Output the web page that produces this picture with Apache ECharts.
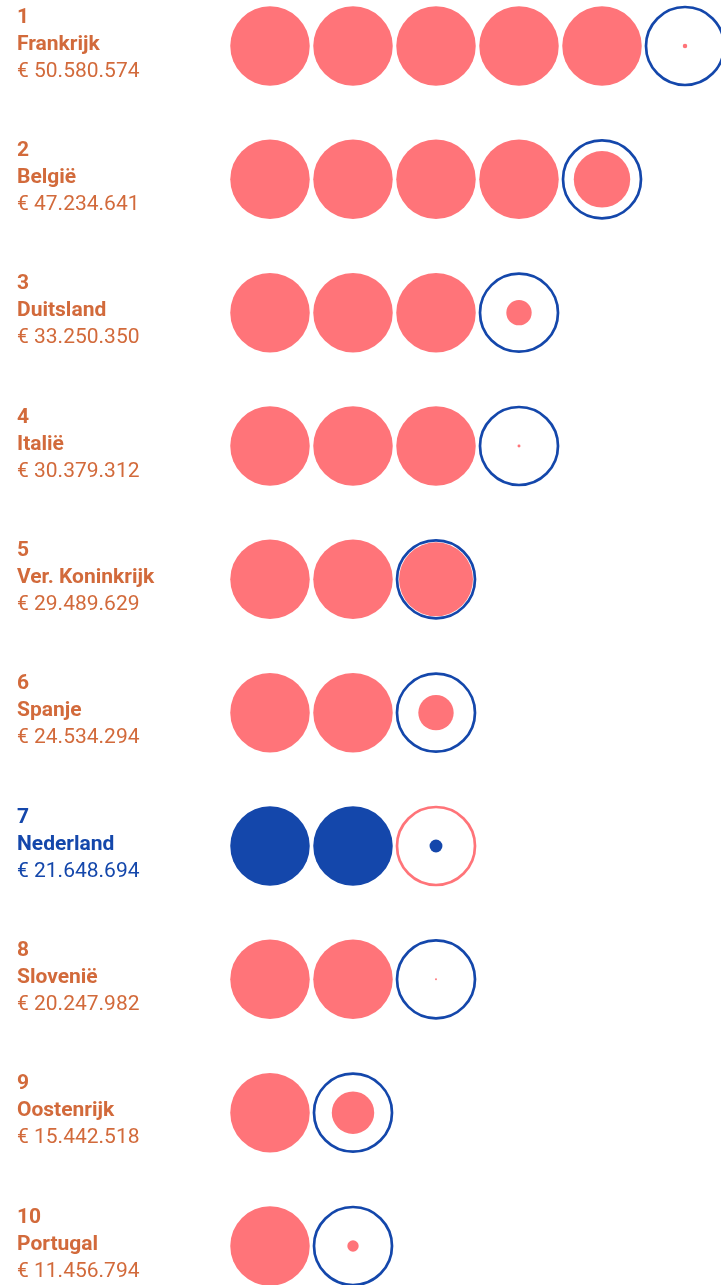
<!DOCTYPE html>
<html>
<head>
<meta charset="utf-8">
<script src="https://cdn.jsdelivr.net/npm/echarts@6/dist/echarts.min.js"></script>
<style>
  html, body { margin: 0; padding: 0; background: #ffffff; }
  #chart { width: 721px; height: 1285px; }
</style>
</head>
<body>
<div id="chart"></div>
<script>
// Top 10 countries by amount; one full circle stands for € 10 million
const ranks = [1, 2, 3, 4, 5, 6, 7, 8, 9, 10];
const countries = ['Frankrijk', 'België', 'Duitsland', 'Italië', 'Ver. Koninkrijk',
  'Spanje', 'Nederland', 'Slovenië', 'Oostenrijk', 'Portugal'];
const amounts = [50580574, 47234641, 33250350, 30379312, 29489629,
  24534294, 21648694, 20247982, 15442518, 11456794];
const highlighted = 'Nederland';
const unitSize = 10000000;

const PINK = '#ff7479';
const BLUE = '#1447ab';
const ORANGE = '#d26a3b';
const R = 39;

function euro(v) {
  return '€ ' + String(v).replace(/\B(?=(\d{3})+(?!\d))/g, '.');
}

const fullData = [];
const ringData = [];
const innerData = [];
countries.forEach(function (c, k) {
  const hl = c === highlighted;
  const whole = Math.floor(amounts[k] / unitSize);
  const frac = (amounts[k] - whole * unitSize) / unitSize;
  for (let i = 0; i < whole; i++) {
    fullData.push({ value: [i, c], itemStyle: { color: hl ? BLUE : PINK } });
  }
  ringData.push({ value: [whole, c], itemStyle: { color: '#ffffff', borderColor: hl ? PINK : BLUE } });
  innerData.push({ value: [whole, c, frac], itemStyle: { color: hl ? BLUE : PINK } });
});

function richStyle(color, bold) {
  return { color: color, fontFamily: 'Roboto', fontWeight: bold ? 'bold' : 'normal', fontSize: 21, lineHeight: 27 };
}

const chart = echarts.init(document.getElementById('chart'), null, { renderer: 'canvas' });
chart.setOption({
  animation: false,
  backgroundColor: '#ffffff',
  textStyle: { fontFamily: 'Roboto' },
  grid: { left: 270, top: 46, width: 415, height: 1200, containLabel: false, outerBoundsMode: 'none' },
  xAxis: {
    type: 'value', min: 0, max: 5,
    show: false
  },
  yAxis: {
    type: 'category', data: countries, inverse: true, boundaryGap: false,
    axisLine: { show: false }, axisTick: { show: false }, splitLine: { show: false },
    axisLabel: {
      align: 'left',
      margin: 253,
      padding: [0, 0, 3, 0],
      formatter: function (c) {
        const k = countries.indexOf(c);
        const s = c === highlighted ? 'h' : '';
        return '{r' + s + '|' + ranks[k] + '}\n{n' + s + '|' + c + '}\n{v' + s + '|' + euro(amounts[k]) + '}';
      },
      rich: {
        r: richStyle(ORANGE, true),
        n: richStyle(ORANGE, true),
        v: richStyle(ORANGE, false),
        rh: richStyle(BLUE, true),
        nh: richStyle(BLUE, true),
        vh: richStyle(BLUE, false)
      }
    }
  },
  series: [
    {
      name: 'full', type: 'scatter', symbol: 'circle', symbolSize: 2 * R + 1.5,
      itemStyle: { opacity: 1 },
      data: fullData, silent: true, clip: false
    },
    {
      name: 'ring', type: 'scatter', symbol: 'circle', symbolSize: 2 * R,
      itemStyle: { borderWidth: 2.7, opacity: 1 },
      data: ringData, silent: true, clip: false
    },
    {
      name: 'inner', type: 'scatter', symbol: 'circle',
      symbolSize: function (v) { return 2 * R * v[2]; },
      itemStyle: { opacity: 1 },
      data: innerData, silent: true, clip: false
    }
  ]
});
</script>
</body>
</html>
